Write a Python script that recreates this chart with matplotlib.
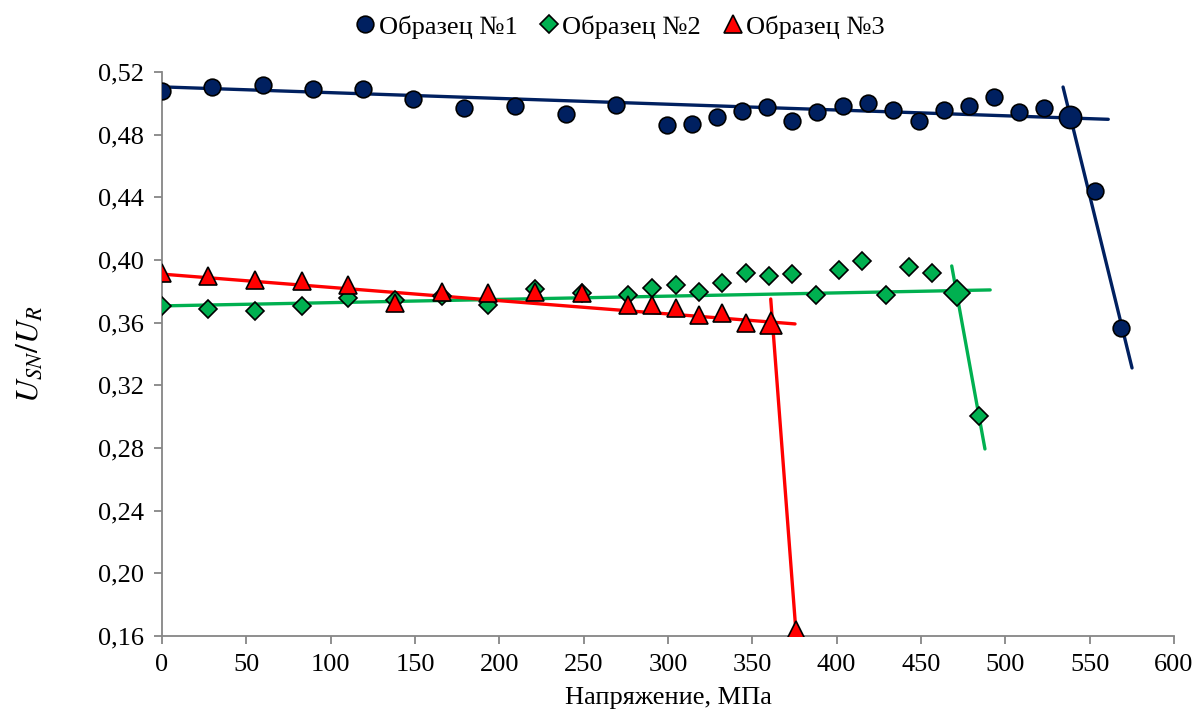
import matplotlib.pyplot as plt
from matplotlib.lines import Line2D
from matplotlib.ticker import FuncFormatter

plt.rcParams['font.family'] = 'serif'
plt.rcParams['font.serif'] = ['Liberation Serif', 'DejaVu Serif']
plt.rcParams['mathtext.fontset'] = 'stix'

# Образец №1
s1_x = [0, 29.5, 59.7, 89.3, 119.3, 149, 179, 209.3, 239.3, 269, 299.2, 314, 328.9, 344,
        358.9, 373.7, 388.5, 403.9, 418.7, 433.6, 448.8, 463.6, 478.4, 493.4, 508.3,
        523.1, 538.3, 553.1, 568.4]
s1_y = [0.508, 0.5106, 0.5117, 0.509, 0.509, 0.5026, 0.4968, 0.4985, 0.493, 0.4989,
        0.4862, 0.4868, 0.4915, 0.4951, 0.4979, 0.4887, 0.4947, 0.4985, 0.500, 0.4957,
        0.4887, 0.4957, 0.4983, 0.5039, 0.4947, 0.4972, 0.4915, 0.444, 0.3564]
s1_knee = 26

# Образец №2
s2_x = [0, 27.5, 55.1, 82.8, 110.5, 138.1, 165.8, 193.5, 221.1, 248.8, 276.5, 290.7,
        304.6, 318.4, 332.2, 346.1, 359.9, 373.7, 387.6, 401.4, 415.2, 429.1, 442.9,
        456.7, 471.2, 484.4]
s2_y = [0.3709, 0.3686, 0.3675, 0.3709, 0.3756, 0.3745, 0.377, 0.3713, 0.3815, 0.3792,
        0.3777, 0.382, 0.3841, 0.3798, 0.3852, 0.3915, 0.3898, 0.3909, 0.3777, 0.3936,
        0.3996, 0.3777, 0.3957, 0.3915, 0.3788, 0.3007]
s2_knee = 24

# Образец №3
s3_x = [0, 27.5, 55.1, 82.8, 110.5, 138.1, 165.8, 193.5, 221.1, 248.8, 276.5, 290.7,
        304.6, 318.4, 332.2, 346.1, 360.9, 375.9]
s3_y = [0.3917, 0.390, 0.3873, 0.3869, 0.3841, 0.3724, 0.3798, 0.3788, 0.3798, 0.3788,
        0.3713, 0.3713, 0.3692, 0.3649, 0.366, 0.3596, 0.360, 0.1639]
s3_knee = 16

# trend lines
fit1_x, fit1_y = [0, 561], [0.5105, 0.4898]
drop1_x, drop1_y = [534.2, 575.1], [0.5104, 0.3311]
fit2_x, fit2_y = [0, 491], [0.3707, 0.3809]
drop2_x, drop2_y = [468.2, 487.9], [0.3962, 0.2794]
fit3_x, fit3_y = [0, 375.3], [0.391, 0.3592]
drop3_x, drop3_y = [360.9, 375.9], [0.3751, 0.162]

c1, c2, c3 = '#002060', '#00B050', '#FF0000'
labels = ['Образец №1', 'Образец №2', 'Образец №3']

fig = plt.figure(figsize=(11.98, 7.10), dpi=100)
ax = fig.add_axes([0.1352, 0.1042, 0.8448, 0.7944])

lw = 2.4
for fx, fy, dx, dy, c in [(fit1_x, fit1_y, drop1_x, drop1_y, c1),
                          (fit2_x, fit2_y, drop2_x, drop2_y, c2),
                          (fit3_x, fit3_y, drop3_x, drop3_y, c3)]:
    ax.plot(fx, fy, color=c, lw=lw, zorder=2, solid_capstyle='round')
    ax.plot(dx, dy, color=c, lw=lw, zorder=2, solid_capstyle='round')

series = [(s1_x, s1_y, s1_knee, 'o', 12, 16, c1),
          (s2_x, s2_y, s2_knee, 'D', 9.5, 13, c2),
          (s3_x, s3_y, s3_knee, '^', 12.5, 16, c3)]
for i, (xs, ys, k, m, ms, big, c) in enumerate(series):
    z = 3 + i
    ax.plot(xs, ys, ls='none', marker=m, ms=ms, mfc=c, mec='black', mew=1.2, zorder=z)
    ax.plot(xs[k], ys[k], ls='none', marker=m, ms=big, mfc=c, mec='black', mew=1.2, zorder=z)

ax.set_xlim(0, 600)
ax.set_ylim(0.16, 0.52)
ax.set_xticks(range(0, 601, 50))
ax.set_yticks([0.16 + 0.04 * i for i in range(10)])
ax.yaxis.set_major_formatter(FuncFormatter(lambda v, p: f'{v:.2f}'.replace('.', ',')))

for s in ['top', 'right']:
    ax.spines[s].set_visible(False)
for s in ['left', 'bottom']:
    ax.spines[s].set_color('#868686')
    ax.spines[s].set_linewidth(1.3)
ax.tick_params(direction='out', length=6, width=1.3, color='#868686',
               labelsize=19, labelcolor='black', pad=7)

ax.set_xlabel('Напряжение, МПа', fontsize=19, labelpad=8)
ax.set_ylabel('$U_{SN}/U_R$', fontsize=23, labelpad=38)

handles = [Line2D([], [], ls='none', marker=m, ms=ms, mfc=c, mec='black', mew=1.2)
           for (_, _, _, m, ms, _, c) in series]
fig.legend(handles, labels, loc='center', bbox_to_anchor=(0.515, 0.962), ncol=3,
           frameon=False, fontsize=19, handletextpad=-0.1, columnspacing=0.6,
           handlelength=1.2, borderaxespad=0)

fig.savefig('out.png', dpi=100)
